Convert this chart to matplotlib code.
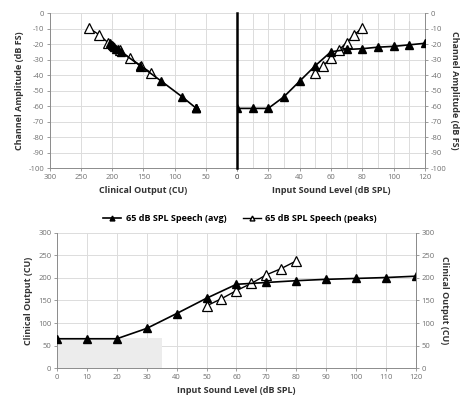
import matplotlib
matplotlib.use("Agg")
import matplotlib.pyplot as plt
from matplotlib.lines import Line2D

plt.rcParams['font.family'] = ['Open Sans', 'DejaVu Sans']
plt.rcParams['axes.unicode_minus'] = False

# ---- data ----
input_avg = [0, 10, 20, 30, 40, 50, 60, 70, 80, 90, 100, 110, 120]
cu_avg = [65, 65, 65, 88, 121, 155, 186, 190, 194, 197, 199, 201, 204]
dbfs_avg = [-61.5, -61.5, -61.5, -54, -44, -34, -25, -23.5, -23, -22, -21.5, -20.5, -19.5]

input_peaks = [50, 55, 60, 65, 70, 75, 80]
cu_peaks = [138, 154, 172, 188, 207, 221, 238]
dbfs_peaks = [-38.5, -34, -29, -24, -19, -14, -9.5]

cu_ticks = [300, 250, 200, 150, 100, 50, 0]
dbfs_ticks = list(range(0, -101, -10))
spl_ticks_top = list(range(0, 121, 20))
spl_ticks_bot = list(range(0, 121, 10))
cu_ticks_bot = list(range(0, 301, 50))

GRID = '#dcdcdc'
SPINE = '#8c8c8c'
TICKC = '#707070'
LBL = dict(fontsize=6.5, fontweight='bold', color='#333333')

avg_style = dict(color='black', lw=1.2, marker='^', ms=6, mfc='black', mec='black', zorder=4)
pk_style = dict(color='black', lw=1.0, marker='^', ms=7, mfc='white', mec='black', mew=0.9, zorder=3)

fig = plt.figure(figsize=(4.71, 4.08), dpi=100)


def style_axis(ax):
    ax.grid(True, color=GRID, lw=0.7)
    ax.set_axisbelow(True)
    ax.tick_params(labelsize=5.5, colors=SPINE, labelcolor=TICKC, length=2.5, width=0.6, pad=1.5)
    for s in ax.spines.values():
        s.set_color(SPINE)
        s.set_linewidth(0.7)
    ax.spines['top'].set_visible(False)


# ---- top left: dB FS vs clinical output ----
axl = fig.add_axes([0.106, 0.588, 0.397, 0.380])
axl.plot(cu_peaks, dbfs_peaks, **pk_style)
axl.plot(cu_avg, dbfs_avg, **avg_style)
axl.set_xlim(300, 0)
axl.set_ylim(-100, 0)
axl.set_xticks(cu_ticks)
axl.set_yticks(dbfs_ticks)
style_axis(axl)
axl.spines['right'].set_visible(False)
axl.set_xlabel('Clinical Output (CU)', labelpad=4, **LBL)
axl.set_ylabel('Channel Amplitude (dB FS)', labelpad=3, **LBL)

# ---- top right: dB FS vs input level ----
axr = fig.add_axes([0.503, 0.588, 0.399, 0.380])
axr.plot(input_peaks, dbfs_peaks, **pk_style)
axr.plot(input_avg, dbfs_avg, **avg_style)
axr.set_xlim(0, 120)
axr.set_ylim(-100, 0)
axr.set_xticks(spl_ticks_top)
axr.set_xticks(spl_ticks_bot, minor=True)
axr.set_yticks(dbfs_ticks)
style_axis(axr)
axr.grid(True, which='minor', axis='x', color=GRID, lw=0.7)
axr.tick_params(which='minor', length=0)
axr.yaxis.tick_right()
axr.yaxis.set_label_position('right')
axr.spines['left'].set_color('black')
axr.spines['left'].set_linewidth(1.8)
axr.spines['left'].set_zorder(5)
axr.set_xlabel('Input Sound Level (dB SPL)', labelpad=4, **LBL)
axr.set_ylabel('Channel Amplitude (dB FS)', rotation=-90, labelpad=9, **LBL)

# ---- bottom: clinical output vs input level ----
axb = fig.add_axes([0.121, 0.098, 0.762, 0.331])
axb.fill_between([0, 35], 0, 67, color='#ececec', lw=0, zorder=1)
axb.plot(input_peaks, cu_peaks, **pk_style)
axb.plot(input_avg, cu_avg, **avg_style)
axb.set_xlim(0, 120)
axb.set_ylim(0, 300)
axb.set_xticks(spl_ticks_bot)
axb.set_yticks(cu_ticks_bot)
style_axis(axb)
axb.set_xlabel('Input Sound Level (dB SPL)', labelpad=4, **LBL)
axb.set_ylabel('Clinical Output (CU)', labelpad=4, **LBL)

axb2 = axb.twinx()
axb2.set_ylim(0, 300)
axb2.set_yticks(cu_ticks_bot)
axb2.tick_params(labelsize=5.5, colors=SPINE, labelcolor=TICKC, length=2.5, width=0.6, pad=1.5)
for s in axb2.spines.values():
    s.set_visible(False)
axb2.spines['right'].set_visible(True)
axb2.spines['right'].set_color(SPINE)
axb2.spines['right'].set_linewidth(0.7)
axb2.set_ylabel('Clinical Output (CU)', rotation=-90, labelpad=10, **LBL)

# ---- legend ----
handles = [
    Line2D([], [], color='black', lw=1.2, marker='^', ms=3.5, mfc='black', mec='black'),
    Line2D([], [], color='black', lw=1.0, marker='^', ms=3.5, mfc='white', mec='black'),
]
fig.legend(handles, ['65 dB SPL Speech (avg)', '65 dB SPL Speech (peaks)'],
           loc='center', bbox_to_anchor=(0.51, 0.465), ncol=2, frameon=False,
           fontsize=6.5, handlelength=2.0, columnspacing=1.8, handletextpad=0.5,
           prop={'weight': 'bold', 'size': 6.5})

fig.savefig('out.png', dpi=100)
